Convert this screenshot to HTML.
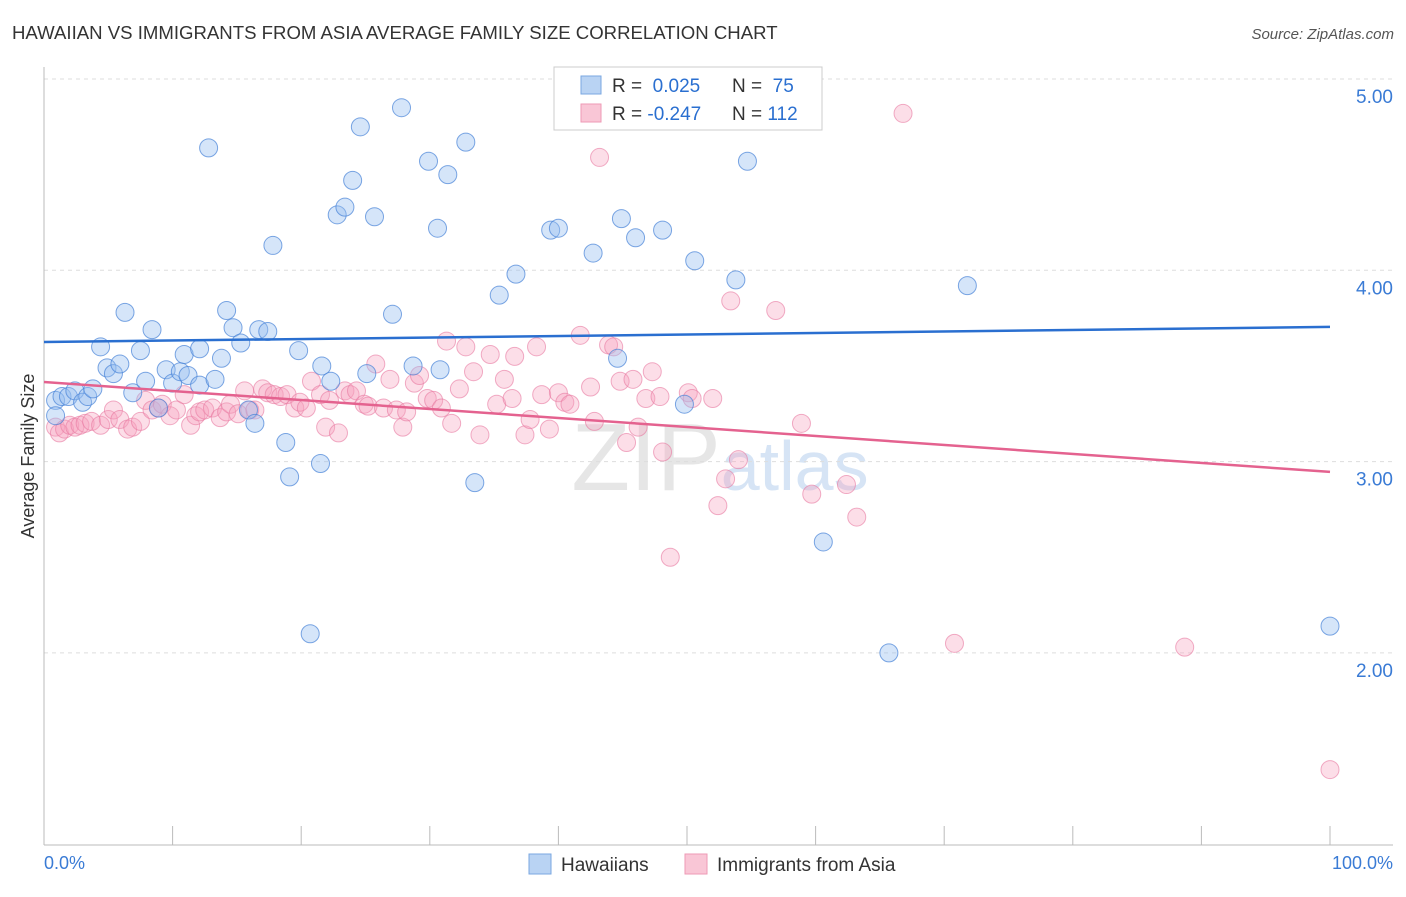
<!DOCTYPE html>
<html><head><meta charset="utf-8"><style>
body{margin:0;background:#fff;font-family:"Liberation Sans",sans-serif}
svg text{font-family:"Liberation Sans",sans-serif}
</style></head><body>
<svg id="chart" width="1406" height="892" xmlns="http://www.w3.org/2000/svg">
<text x="12" y="39" font-size="18.6" fill="#333">HAWAIIAN VS IMMIGRANTS FROM ASIA AVERAGE FAMILY SIZE CORRELATION CHART</text>
<text x="1394" y="39" font-size="15" fill="#555" text-anchor="end" font-style="italic">Source: ZipAtlas.com</text>
<text x="720" y="490" font-size="96" fill="#e6e6e6" text-anchor="middle" font-family="Liberation Serif">ZIP<tspan fill="#d6e4f5" font-family="Liberation Sans" font-size="70">atlas</tspan></text>
<g id="grid"></g>
<g id="axes"></g>
<g id="pts"></g>
<g id="trend"></g>
<text transform="translate(34,456) rotate(-90)" font-size="18" fill="#333" text-anchor="middle">Average Family Size</text>
<text x="44" y="869" font-size="18" fill="#3a7bd5">0.0%</text>
<text x="1393" y="869" font-size="18" fill="#3a7bd5" text-anchor="end">100.0%</text>
<g>
<rect x="554" y="67" width="268" height="63" fill="#fff" stroke="#ccc"/>
<rect x="581" y="76" width="20" height="18" fill="#b9d3f3" stroke="#7aa7e0"/>
<rect x="581" y="104" width="20" height="18" fill="#f9c6d6" stroke="#ee9ab5"/>
<text x="612" y="92" font-size="19" fill="#333">R = <tspan fill="#2a6fd0">&#160;0.025</tspan><tspan x="732">N = </tspan><tspan fill="#2a6fd0">&#160;75</tspan></text>
<text x="612" y="120" font-size="19" fill="#333">R = <tspan fill="#2a6fd0">-0.247</tspan><tspan x="732">N = </tspan><tspan fill="#2a6fd0">112</tspan></text>
</g>
<g>
<rect x="529" y="854" width="22" height="20" fill="#b9d3f3" stroke="#7aa7e0"/>
<text x="561" y="871" font-size="19" fill="#333">Hawaiians</text>
<rect x="685" y="854" width="22" height="20" fill="#f9c6d6" stroke="#ee9ab5"/>
<text x="717" y="871" font-size="19" fill="#333">Immigrants from Asia</text>
</g>
</svg>
<script>
const yTicks=[2,3,4,5];
const yTickLabels=["2.00","3.00","4.00","5.00"];
const xTicks=[0,10,20,30,40,50,60,70,80,90,100];
const blueX=[0.9,0.9,1.4,1.9,2.4,3.0,3.4,3.8,4.4,4.9,5.4,5.9,6.3,6.9,7.5,7.9,8.4,8.9,9.5,10.0,10.6,10.9,11.2,12.1,12.8,12.1,13.3,13.8,14.2,14.7,15.3,15.9,16.4,16.7,17.4,17.8,18.8,19.1,19.8,20.7,21.5,21.6,22.3,22.8,23.4,24.0,24.6,25.1,25.7,27.1,27.8,28.7,29.9,30.6,30.8,31.4,32.8,33.5,35.4,36.7,39.4,40.0,42.7,44.6,44.9,46.0,48.1,49.8,50.6,53.8,54.7,60.6,65.7,71.8,100];
const blueY=[3.32,3.24,3.34,3.34,3.37,3.31,3.34,3.38,3.60,3.49,3.46,3.51,3.78,3.36,3.58,3.42,3.69,3.28,3.48,3.41,3.47,3.56,3.45,3.59,4.64,3.40,3.43,3.54,3.79,3.70,3.62,3.27,3.20,3.69,3.68,4.13,3.10,2.92,3.58,2.10,2.99,3.50,3.42,4.29,4.33,4.47,4.75,3.46,4.28,3.77,4.85,3.50,4.57,4.22,3.48,4.50,4.67,2.89,3.87,3.98,4.21,4.22,4.09,3.54,4.27,4.17,4.21,3.30,4.05,3.95,4.57,2.58,2.00,3.92,2.14];
const pinkX=[0.9,1.2,1.6,2.0,2.4,2.8,3.2,3.7,4.4,5.0,5.4,5.9,6.5,6.9,7.5,7.9,8.4,8.9,9.2,9.8,10.3,10.9,11.4,11.8,12.1,12.5,13.1,13.7,14.2,14.5,15.1,15.6,16.0,16.4,17.0,17.4,17.9,18.4,18.9,19.5,19.9,20.4,20.8,21.5,21.9,22.2,22.9,23.4,23.8,24.3,24.9,25.2,25.8,26.4,26.9,27.4,27.9,28.2,28.8,29.2,29.8,30.3,30.9,31.3,31.7,32.3,32.8,33.4,33.9,34.7,35.2,35.8,36.4,36.6,37.4,37.8,38.3,38.7,39.3,40.0,40.5,40.9,41.7,42.5,42.8,43.2,43.9,44.3,44.8,45.3,45.8,46.2,46.8,47.3,47.9,48.1,48.7,50.1,50.4,52.0,52.4,53.0,53.4,54.0,56.9,58.9,59.7,62.4,63.2,66.8,70.8,88.7,100];
const pinkY=[3.18,3.15,3.17,3.19,3.18,3.19,3.20,3.21,3.19,3.22,3.27,3.22,3.17,3.18,3.21,3.32,3.27,3.28,3.30,3.24,3.27,3.35,3.19,3.24,3.26,3.27,3.28,3.23,3.26,3.30,3.25,3.37,3.27,3.27,3.38,3.36,3.35,3.34,3.35,3.28,3.31,3.28,3.42,3.35,3.18,3.32,3.15,3.37,3.35,3.37,3.30,3.29,3.51,3.28,3.43,3.27,3.18,3.26,3.41,3.45,3.33,3.32,3.28,3.63,3.20,3.38,3.60,3.47,3.14,3.56,3.30,3.43,3.33,3.55,3.14,3.22,3.60,3.35,3.17,3.36,3.31,3.30,3.66,3.39,3.21,4.59,3.61,3.60,3.42,3.10,3.43,3.18,3.33,3.47,3.34,3.05,2.50,3.36,3.33,3.33,2.77,2.91,3.84,3.01,3.79,3.20,2.83,2.88,2.71,4.82,2.05,2.03,1.39];
const blueTrend=[3.625,3.704];
const pinkTrend=[3.416,2.946];
const NS="http://www.w3.org/2000/svg";
function sx(v){return 44+v*12.86;}
function sy(v){return 79+(5-v)*191.3;}
function mk(tag,attrs,parent){const e=document.createElementNS(NS,tag);for(const k in attrs)e.setAttribute(k,attrs[k]);parent.appendChild(e);return e;}
const grid=document.getElementById('grid'),axes=document.getElementById('axes'),pts=document.getElementById('pts'),trend=document.getElementById('trend');
yTicks.forEach((t,i)=>{
 const l=mk('line',{x1:44,x2:1393,y1:sy(t),y2:sy(t),stroke:'#ddd','stroke-dasharray':'4,4'},grid);
 
 
 const tx=mk('text',{x:1393,y:sy(t)+24,'font-size':19,fill:'#3a7bd5','text-anchor':'end'},grid);
 tx.textContent=yTickLabels[i];
 
 
});
mk('line',{x1:44,x2:1393,y1:845,y2:845,stroke:'#bbb'},axes);
mk('line',{x1:44,x2:44,y1:67,y2:845,stroke:'#bbb'},axes);
xTicks.forEach(t=>{
 const l=mk('line',{x1:sx(t),x2:sx(t),y1:826,y2:845,stroke:'#bbb'},axes);
 
 
});
pinkX.forEach((x,i)=>{
 const c=mk('circle',{cx:sx(x),cy:sy(pinkY[i]),r:9,fill:'rgba(246,160,188,0.35)',stroke:'rgba(232,120,160,0.6)','stroke-width':1},pts);
 
 
});
blueX.forEach((x,i)=>{
 const c=mk('circle',{cx:sx(x),cy:sy(blueY[i]),r:9,fill:'rgba(150,190,240,0.4)',stroke:'rgba(70,130,215,0.7)','stroke-width':1},pts);
 
 
});
const bl=mk('line',{x1:sx(0),x2:sx(100),y1:sy(blueTrend[0]),y2:sy(blueTrend[1]),stroke:'#2a6fd0','stroke-width':2.5},trend);


const pl=mk('line',{x1:sx(0),x2:sx(100),y1:sy(pinkTrend[0]),y2:sy(pinkTrend[1]),stroke:'#e4628f','stroke-width':2.5},trend);


</script>
</body></html>
